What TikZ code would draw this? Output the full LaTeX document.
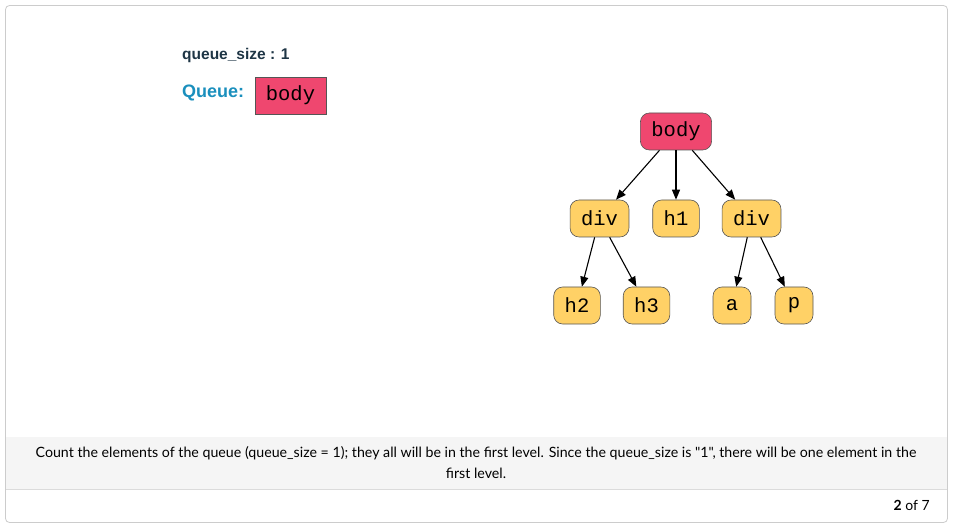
\documentclass[tikz,border=0pt]{standalone}
\usepackage{fontspec}
\setmainfont{Lato}[Ligatures=TeXOff]
\newfontfamily\arialfont{Liberation Sans}
\newfontfamily\monofont{Liberation Mono}
\usetikzlibrary{arrows.meta}
\definecolor{pinkfill}{HTML}{EF476F}
\definecolor{yellowfill}{HTML}{FFD166}
\definecolor{nodeborder}{HTML}{555555}
\definecolor{queueblue}{HTML}{1A8FBD}
\definecolor{darktext}{HTML}{1E3545}
\definecolor{bandgray}{HTML}{F5F5F5}
\definecolor{framegray}{HTML}{CCCCCC}
\tikzset{
  treenode/.style={draw=nodeborder, line width=0.6pt, rounded corners=9pt,
    minimum width=38pt, minimum height=37pt, inner xsep=11pt, inner ysep=0pt,
    font=\monofont\fontsize{20.5}{24}\selectfont, text=black},
  rootnode/.style={treenode, fill=pinkfill},
  leafnode/.style={treenode, fill=yellowfill},
  edge/.style={line width=1.1pt, -{Triangle[length=10pt,width=8pt]}},
}
\begin{document}
\begin{tikzpicture}[x=1pt,y=-1pt]
\useasboundingbox (0,0) rectangle (953,529);
\fill[white] (0,0) rectangle (953,529);
% frame
\draw[framegray, line width=0.8pt, rounded corners=4pt, fill=white] (5.5,5.5) rectangle (947.5,522.5);
\fill[bandgray] (6,437) rectangle (947,489);
\draw[framegray!70, line width=0.5pt] (6,489) -- (947,489);
% header
\node[anchor=west, inner sep=0pt, text=darktext, font=\arialfont\bfseries\fontsize{15.5}{19}\selectfont] (qs) at (182,55) {queue\_size : 1};
\node[anchor=west, inner sep=0pt, text=queueblue, font=\arialfont\bfseries\fontsize{18}{22}\selectfont] (ql) at (182,93) {Queue:};
\node[draw=nodeborder, fill=pinkfill, line width=0.6pt, minimum width=71pt, minimum height=37pt, inner sep=0pt, font=\monofont\fontsize{20.5}{24}\selectfont] (qbody) at (290.5,95.5) {body};
% tree
\node[rootnode] (body) at (676,131.5) {body};
\node[leafnode] (div1) at (599.5,218.5) {div};
\node[leafnode] (h1) at (676,218.5) {h1};
\node[leafnode] (div2) at (751.5,218.5) {div};
\node[leafnode] (h2) at (577,305.5) {h2};
\node[leafnode] (h3) at (646.5,305.5) {h3};
\node[leafnode] (a) at (732,305.5) {a};
\node[leafnode] (p) at (794,305.5) {p};
\draw[edge] (body) -- (div1);
\draw[edge] (body) -- (h1);
\draw[edge] (body) -- (div2);
\draw[edge] (div1) -- (h2);
\draw[edge] (div1) -- (h3);
\draw[edge] (div2) -- (a);
\draw[edge] (div2) -- (p);
% caption
\node[align=center, inner sep=0pt, font=\fontsize{14.2}{21}\selectfont, text=black] (cap) at (476,462.5)
  {Count the elements of the queue (queue\_size = 1); they all will be in the first level. Since the queue\_size is "1", there will be one element in the\\first level.};
\node[anchor=east, inner sep=0pt, font=\fontsize{14}{16}\selectfont] (pg) at (930,505) {\textbf{2} of 7};
\end{tikzpicture}
\end{document}
